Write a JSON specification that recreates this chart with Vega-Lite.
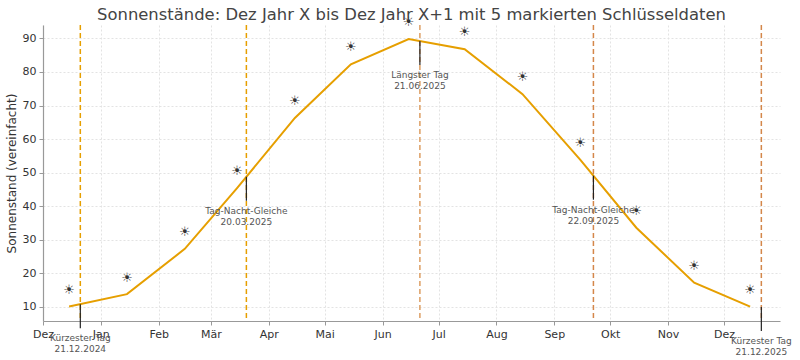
{
  "$schema": "https://vega.github.io/schema/vega-lite/v6.json",
  "width": 737,
  "height": 296,
  "autosize": {"type": "none"},
  "padding": {"left": 43, "top": 25, "right": 20, "bottom": 39},
  "title": {
    "text": "Sonnenstände: Dez Jahr X bis Dez Jahr X+1 mit 5 markierten Schlüsseldaten",
    "fontSize": 16.4,
    "font": "DejaVu Sans",
    "fontWeight": "normal",
    "color": "#444444",
    "anchor": "middle",
    "offset": 6,
    "dy": 13
  },
  "datasets": {
    "kurve": [
      {"datum": "2024-12-15T00:00", "wert": 10.1, "sonne": 15.1},
      {"datum": "2025-01-15T00:00", "wert": 13.8, "sonne": 18.6},
      {"datum": "2025-02-15T00:00", "wert": 27.3, "sonne": 32.3},
      {"datum": "2025-03-15T00:00", "wert": 45.4, "sonne": 50.4},
      {"datum": "2025-04-15T00:00", "wert": 66.3, "sonne": 71.3},
      {"datum": "2025-05-15T00:00", "wert": 82.3, "sonne": 87.3},
      {"datum": "2025-06-15T00:00", "wert": 89.8, "sonne": 94.8},
      {"datum": "2025-07-15T00:00", "wert": 86.8, "sonne": 91.8},
      {"datum": "2025-08-15T00:00", "wert": 73.4, "sonne": 78.4},
      {"datum": "2025-09-15T00:00", "wert": 53.8, "sonne": 58.8},
      {"datum": "2025-10-15T00:00", "wert": 33.6, "sonne": 38.6},
      {"datum": "2025-11-15T00:00", "wert": 17.2, "sonne": 22.2},
      {"datum": "2025-12-15T00:00", "wert": 10.1, "sonne": 15.1}
    ],
    "schluessel": [
      {"datum": "2024-12-21T00:00", "wert": 10.8, "name": "Kürzester Tag", "text": "Kürzester Tag\n21.12.2024"},
      {"datum": "2025-03-20T00:00", "wert": 48.8, "name": "Frühling", "text": "Tag-Nacht-Gleiche\n20.03.2025"},
      {"datum": "2025-06-21T00:00", "wert": 89.2, "name": "Längster Tag", "text": "Längster Tag\n21.06.2025"},
      {"datum": "2025-09-22T00:00", "wert": 49.1, "name": "Herbst", "text": "Tag-Nacht-Gleiche\n22.09.2025"},
      {"datum": "2025-12-21T00:00", "wert": 10.0, "name": "Kürzester Tag 2", "text": "Kürzester Tag\n21.12.2025"}
    ]
  },
  "encoding": {
    "x": {
      "field": "datum",
      "type": "temporal",
      "scale": {"domain": [{"year": 2024, "month": 12, "date": 1}, {"year": 2025, "month": 12, "date": 31}]},
      "axis": {
        "title": null,
        "tickCount": {"interval": "month", "step": 1},
        "labelExpr": "['Jan','Feb','Mär','Apr','Mai','Jun','Jul','Aug','Sep','Okt','Nov','Dez'][month(datum.value)]",
        "labelFlush": false,
        "labelOverlap": false,
        "grid": true
      }
    }
  },
  "layer": [
    {
      "data": {"name": "kurve"},
      "mark": {"type": "line", "color": "#e69f00", "strokeWidth": 2},
      "encoding": {
        "y": {
          "field": "wert",
          "type": "quantitative",
          "scale": {"domain": [5.8, 94], "nice": false, "zero": false},
          "axis": {"title": "Sonnenstand (vereinfacht)", "values": [10, 20, 30, 40, 50, 60, 70, 80, 90], "labelOverlap": false, "grid": true}
        }
      }
    },
    {
      "data": {"name": "schluessel"},
      "mark": {"type": "rule", "strokeDash": [5, 3], "strokeWidth": 1.5},
      "encoding": {
        "color": {
          "field": "name",
          "type": "nominal",
          "legend": null,
          "scale": {
            "domain": ["Kürzester Tag", "Frühling", "Längster Tag", "Herbst", "Kürzester Tag 2"],
            "range": ["#e69f00", "#e69f00", "#dd9e62", "#d4874a", "#d4874a"]
          }
        }
      }
    },
    {
      "data": {"name": "schluessel"},
      "mark": {"type": "rule", "color": "#222222", "strokeWidth": 1.2, "y2Offset": 24},
      "encoding": {
        "y": {
          "field": "wert",
          "type": "quantitative",
          "axis": {"title": "Sonnenstand (vereinfacht)", "values": [10, 20, 30, 40, 50, 60, 70, 80, 90], "labelOverlap": false, "grid": true}
        },
        "y2": {"field": "wert"}
      }
    },
    {
      "data": {"name": "schluessel"},
      "mark": {"type": "text", "font": "DejaVu Sans", "fontSize": 9, "color": "#555555", "dy": 34, "lineBreak": "\n", "lineHeight": 11, "baseline": "middle", "align": "center"},
      "encoding": {
        "y": {
          "field": "wert",
          "type": "quantitative",
          "axis": {"title": "Sonnenstand (vereinfacht)", "values": [10, 20, 30, 40, 50, 60, 70, 80, 90], "labelOverlap": false, "grid": true}
        },
        "text": {"field": "text"}
      }
    },
    {
      "data": {"name": "kurve"},
      "mark": {"type": "text", "font": "DejaVu Sans", "fontSize": 13, "color": "#333333", "baseline": "middle", "align": "center"},
      "encoding": {
        "y": {
          "field": "sonne",
          "type": "quantitative",
          "axis": {"title": "Sonnenstand (vereinfacht)", "values": [10, 20, 30, 40, 50, 60, 70, 80, 90], "labelOverlap": false, "grid": true}
        },
        "text": {"value": "☀"}
      }
    }
  ],
  "config": {
    "view": {"stroke": null},
    "font": "DejaVu Sans",
    "axis": {
      "labelFont": "DejaVu Sans",
      "labelFontSize": 11,
      "labelColor": "#333333",
      "titleFont": "DejaVu Sans",
      "titleFontSize": 12,
      "titleFontWeight": "normal",
      "titleColor": "#333333",
      "domainColor": "#999999",
      "domainWidth": 1.2,
      "tickColor": "#999999",
      "tickSize": 4,
      "gridColor": "#e3e3e3",
      "gridDash": [2, 2],
      "labelPadding": 3
    }
  }
}
